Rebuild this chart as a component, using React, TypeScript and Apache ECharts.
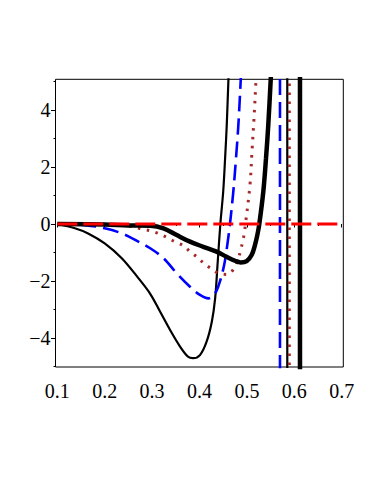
import React, { useEffect, useRef } from 'react';
import * as echarts from 'echarts';

// Thin black solid curve
const thinX = [0.1, 0.137, 0.165, 0.2, 0.236, 0.271, 0.296, 0.317, 0.338, 0.359, 0.376, 0.386, 0.401, 0.415, 0.426, 0.433, 0.438, 0.444, 0.45, 0.454, 0.4575, 0.461, 0.4635];
const thinY = [0, -0.15, -0.33, -0.68, -1.2, -1.9, -2.45, -3.08, -3.72, -4.3, -4.66, -4.71, -4.6, -4.13, -3.43, -2.61, -1.44, 0, 1.13, 2.3, 3.47, 5.05, 6.0];

// Blue dashed curve
const blueX = [0.1, 0.158, 0.2, 0.236, 0.271, 0.296, 0.324, 0.352, 0.38, 0.401, 0.419, 0.433, 0.443, 0.452, 0.4586, 0.4643, 0.4713, 0.477, 0.482, 0.487, 0.49];
const blueY = [0, -0.04, -0.15, -0.33, -0.62, -0.85, -1.2, -1.73, -2.2, -2.49, -2.61, -2.43, -2.02, -1.44, -0.74, 0, 1.13, 2.3, 3.47, 5.05, 6.0];

// Brown dotted curve
const brownX = [0.1, 0.2, 0.239, 0.257, 0.278, 0.296, 0.313, 0.331, 0.348, 0.366, 0.38, 0.394, 0.4095, 0.424, 0.44, 0.4586, 0.4728, 0.482, 0.487, 0.491, 0.4945, 0.497, 0.5065, 0.5107, 0.515, 0.5192, 0.522];
const brownY = [0, -0.01, -0.04, -0.09, -0.175, -0.235, -0.33, -0.47, -0.62, -0.76, -0.97, -1.15, -1.38, -1.56, -1.73, -1.77, -1.56, -1.2, -0.91, -0.62, -0.33, 0, 1.37, 2.54, 3.71, 5.05, 6.0];

// Thick black solid curve
const thickX = [0.1, 0.2, 0.25, 0.296, 0.324, 0.352, 0.38, 0.408, 0.436, 0.457, 0.475, 0.487, 0.4996, 0.51, 0.517, 0.522, 0.5262, 0.5346, 0.5403, 0.5451, 0.5502, 0.553];
const thickY = [0, -0.02, -0.05, -0.06, -0.15, -0.39, -0.62, -0.8, -0.97, -1.15, -1.29, -1.35, -1.3, -1.09, -0.74, -0.39, 0, 1.13, 2.3, 3.47, 5.05, 6.0];

// Red dashed zero line
const zeroX = [0.1, 0.7];
const zeroY = [0, 0];

// Vertical asymptotes (poles): blue, thin, brown, thick
const poleBlue = 0.5698;
const poleThin = 0.5852;
const poleBrown = 0.5895;
const poleThick = 0.612;
const poleSpan = [-10, 10];

// Axis ticks
const xMajorTicks = [0.1, 0.2, 0.3, 0.4, 0.5, 0.6, 0.7];
const xMinorTicks = [0.15, 0.25, 0.35, 0.45, 0.55, 0.65];
const yMajorTicks = [-4, -2, 0, 2, 4];
const yMinorTicks = [-5, -3, -1, 1, 3, 5];

const zip = (xs: number[], ys: number[]) => xs.map((x, i) => [x, ys[i]]);
const pole = (p: number) => poleSpan.map((y) => [p, y]);

export default function App() {
  const ref = useRef<HTMLDivElement>(null);
  useEffect(() => {
    const chart = echarts.init(ref.current!, null, { renderer: 'svg' });
    const font = 'Liberation Serif';
    const xRange = { min: 0.0962, max: 0.7034 };
    const yRange = { min: -5.018, max: 5.077 };

    const styles = {
      thin: { color: '#000000', width: 2.2, type: 'solid' },
      blue: { color: '#0000ff', width: 2.6, type: [16, 7] },
      brown: { color: '#a52a2a', width: 3, type: [2.5, 6.5], cap: 'butt' },
      thick: { color: '#000000', width: 4.5, type: 'solid' },
      red: { color: '#ff0000', width: 3, type: [20, 6] },
    };

    const curve = (data: number[][], ls: any) => ({
      type: 'line',
      data,
      showSymbol: false,
      symbol: 'none',
      smooth: 0.35,
      clip: true,
      lineStyle: ls,
      silent: true,
    });
    const vline = (data: number[][], ls: any) => ({
      type: 'line',
      data,
      showSymbol: false,
      symbol: 'none',
      smooth: false,
      clip: true,
      lineStyle: ls,
      silent: true,
    });

    chart.setOption({
      animation: false,
      backgroundColor: '#ffffff',
      grid: {
        left: 55.5,
        top: 79.3,
        width: 287.8,
        height: 287.7,
        show: true,
        borderColor: '#000000',
        borderWidth: 1,
        backgroundColor: 'transparent',
      },
      xAxis: [
        {
          type: 'value',
          ...xRange,
          position: 'bottom',
          axisLine: { show: false },
          splitLine: { show: false },
          axisTick: { show: true, customValues: xMajorTicks, length: 3.5, lineStyle: { color: '#000' } },
          axisLabel: {
            customValues: xMajorTicks,
            formatter: (v: number) => v.toFixed(1),
            fontFamily: font,
            fontSize: 20,
            color: '#000',
            margin: 14,
          },
        },
        {
          type: 'value',
          ...xRange,
          position: 'bottom',
          axisLine: { show: false },
          splitLine: { show: false },
          axisTick: { show: true, customValues: xMinorTicks, length: 2, lineStyle: { color: '#000' } },
          axisLabel: { show: false },
        },
      ],
      yAxis: [
        {
          type: 'value',
          ...yRange,
          position: 'left',
          axisLine: { show: false },
          splitLine: { show: false },
          axisTick: { show: true, customValues: yMajorTicks, length: 4.5, lineStyle: { color: '#000' } },
          axisLabel: {
            customValues: yMajorTicks,
            formatter: (v: number) => (v < 0 ? '\u2212' + Math.abs(v) : String(v)),
            fontFamily: font,
            fontSize: 20,
            color: '#000',
            margin: 5,
          },
        },
        {
          type: 'value',
          ...yRange,
          position: 'left',
          axisLine: { show: false },
          splitLine: { show: false },
          axisTick: { show: true, customValues: yMinorTicks, length: 2, lineStyle: { color: '#000' } },
          axisLabel: { show: false },
        },
      ],
      series: [
        curve(zip(thinX, thinY), styles.thin),
        vline(pole(poleThin), styles.thin),
        curve(zip(blueX, blueY), styles.blue),
        vline(pole(poleBlue), styles.blue),
        curve(zip(brownX, brownY), styles.brown),
        vline(pole(poleBrown), styles.brown),
        curve(zip(thickX, thickY), styles.thick),
        vline(pole(poleThick), styles.thick),
        vline(zip(zeroX, zeroY), styles.red),
      ],
    });
    return () => chart.dispose();
  }, []);
  return <div ref={ref} style={{ position: 'absolute', left: 0, top: 0, width: 382, height: 494 }} />;
}
